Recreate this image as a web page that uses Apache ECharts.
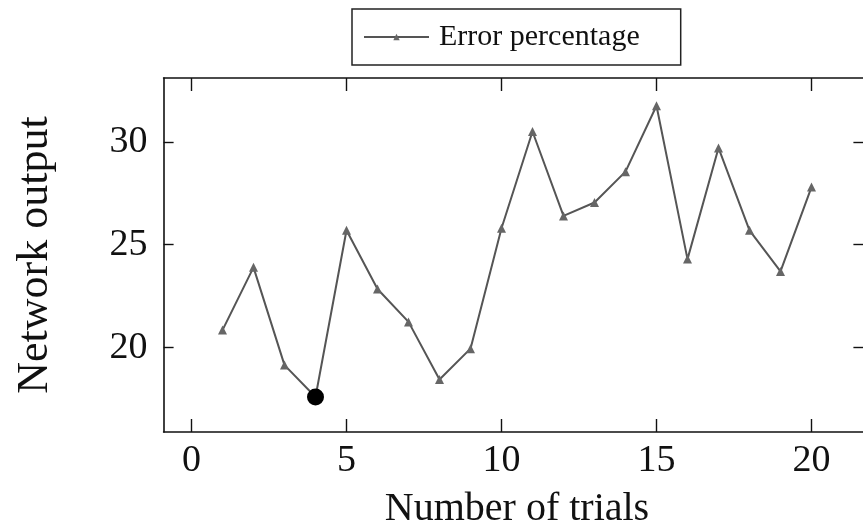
<!DOCTYPE html>
<html>
<head>
<meta charset="utf-8">
<script src="https://cdn.jsdelivr.net/npm/echarts@6/dist/echarts.min.js"></script>
<style>
html,body{margin:0;padding:0;background:#fff;}
#chart{width:863px;height:531px;}
</style>
</head>
<body>
<div id="chart"></div>
<script>
const trials = [1,2,3,4,5,6,7,8,9,10,11,12,13,14,15,16,17,18,19,20];
const errorPct = [20.85,23.9,19.15,17.6,25.7,22.85,21.25,18.45,19.95,25.8,30.5,26.4,27.05,28.55,31.75,24.3,29.7,25.7,23.7,27.8];
const bestTrial = [4];
const bestValue = [17.6];
const xTicks = [0,5,10,15,20];
const yTicks = [20,25,30];
const seriesName = 'Error percentage';
const xTitle = 'Number of trials';
const yTitle = 'Network output';

const FONT = '"Liberation Serif", "DejaVu Serif", serif';
const chart = echarts.init(document.getElementById('chart'), null, {renderer: 'canvas'});

const axisLineStyle = {color: '#111', width: 1.6};
const xRange = {min: -0.9, max: 21.9};
const yRange = {min: 15.9, max: 33.1};

chart.setOption({
  animation: false,
  backgroundColor: '#fff',
  grid: {left: 163.6, right: -7.4, top: 78, bottom: 99, containLabel: false, outerBoundsMode: 'none'},
  legend: {
    data: [seriesName],
    left: 352, top: 9,
    padding: [13, 41, 13, 11],
    borderColor: '#222', borderWidth: 1.5,
    itemWidth: 65, itemHeight: 8,
    textStyle: {fontFamily: FONT, fontSize: 30, color: '#111', padding: [0,0,0,5]}
  },
  xAxis: [
    {
      type: 'value', position: 'bottom', ...xRange,
      name: xTitle, nameLocation: 'middle', nameGap: 57,
      nameTextStyle: {fontFamily: FONT, fontSize: 40, color: '#111'},
      axisLine: {show: true, onZero: false, lineStyle: axisLineStyle},
      axisTick: {show: true, inside: true, length: 13, customValues: xTicks, lineStyle: {color: '#111', width: 1.4}},
      axisLabel: {show: true, customValues: xTicks, margin: 10, fontFamily: FONT, fontSize: 38, color: '#111'},
      splitLine: {show: false}
    },
    {
      type: 'value', position: 'top', ...xRange,
      axisLine: {show: true, onZero: false, lineStyle: axisLineStyle},
      axisTick: {show: true, inside: true, length: 13, customValues: xTicks, lineStyle: {color: '#111', width: 1.4}},
      axisLabel: {show: false},
      splitLine: {show: false}
    }
  ],
  yAxis: [
    {
      type: 'value', position: 'left', ...yRange,
      name: yTitle, nameLocation: 'middle', nameGap: 106, nameRotate: 90,
      nameTextStyle: {fontFamily: FONT, fontSize: 44, color: '#111'},
      axisLine: {show: true, onZero: false, lineStyle: axisLineStyle},
      axisTick: {show: true, inside: true, length: 10, customValues: yTicks, lineStyle: {color: '#111', width: 1.4}},
      axisLabel: {show: true, customValues: yTicks, margin: 16, fontFamily: FONT, fontSize: 38, color: '#111'},
      splitLine: {show: false}
    },
    {
      type: 'value', position: 'right', ...yRange,
      axisLine: {show: true, onZero: false, lineStyle: axisLineStyle},
      axisTick: {show: true, inside: true, length: 17, customValues: yTicks, lineStyle: {color: '#111', width: 1.4}},
      axisLabel: {show: false},
      splitLine: {show: false}
    }
  ],
  series: [
    {
      name: seriesName, type: 'line',
      data: trials.map((t, i) => [t, errorPct[i]]),
      symbol: 'triangle', symbolSize: 9, showSymbol: true,
      itemStyle: {color: '#666'},
      lineStyle: {color: '#555', width: 2},
      z: 2
    },
    {
      name: 'best', type: 'scatter',
      data: bestTrial.map((t, i) => [t, bestValue[i]]),
      symbol: 'circle', symbolSize: 17,
      itemStyle: {color: '#000', opacity: 1},
      z: 3
    }
  ]
});
</script>
</body>
</html>
